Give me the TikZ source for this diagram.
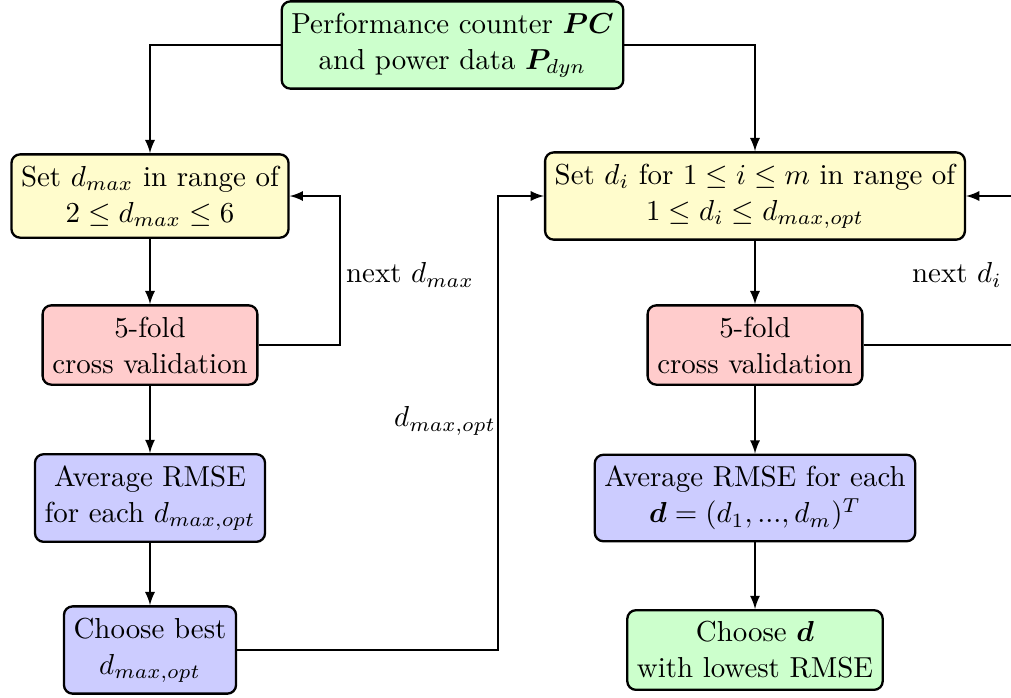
\documentclass[tikz,border=0pt]{standalone}
\usepackage{amsmath,amssymb}
\usepackage{bm}
\begin{document}
\begin{tikzpicture}[x=0.3460pt,y=-0.3460pt,
  box/.style={draw, rounded corners=3pt, thick, align=center,
    inner xsep=3.33pt, inner ysep=3.9pt, font=\linespread{1.04}\selectfont},
  greenbox/.style={box, fill=green!20},
  yellowbox/.style={box, fill=yellow!20},
  redbox/.style={box, fill=red!20},
  bluebox/.style={box, fill=blue!20},
  arr/.style={semithick, -latex},
  lbl/.style={inner sep=0pt}]
\useasboundingbox (0,0) rectangle (1011,697);

% main flow nodes
\node[greenbox] (top) at (452.5,45) {Performance counter $\bm{PC}$\\ and power data $\bm{P}_{dyn}$};

\node[yellowbox] (sdmax) at (150,196) {Set $d_{max}$ in range of\\ $2 \leq d_{max} \leq 6$};
\node[redbox] (cv1) at (150,345) {5-fold\\ cross validation};
\node[bluebox] (avg1) at (150,498) {Average RMSE\\ for each $d_{max,opt}$};
\node[bluebox] (best1) at (150,650) {Choose best\\ $d_{max,opt}$};

\node[yellowbox] (sdi) at (755,196) {Set $d_i$ for $1 \leq i \leq m$ in range of\\ $1 \leq d_i \leq d_{max,opt}$};
\node[redbox] (cv2) at (755,345) {5-fold\\ cross validation};
\node[bluebox] (avg2) at (755,498) {Average RMSE for each\\ $\bm{d} = (d_1, ..., d_m)^T$};
\node[greenbox] (choose) at (755,650) {Choose $\bm{d}$\\ with lowest RMSE};

% routing columns for the loops
\coordinate (loopL) at (340,0);
\coordinate (loopM) at (498,0);
\coordinate (loopR) at (1030,0);

% connectors
\draw[arr] (top.west) -| (sdmax.north);
\draw[arr] (top.east) -| (sdi.north);
\draw[arr] (sdmax) -- (cv1);
\draw[arr] (cv1) -- (avg1);
\draw[arr] (avg1) -- (best1);
\draw[arr] (sdi) -- (cv2);
\draw[arr] (cv2) -- (avg2);
\draw[arr] (avg2) -- (choose);

\draw[arr] (cv1.east) -- (cv1.east -| loopL) |- (sdmax.east);
\draw[arr] (best1.east) -- (best1.east -| loopM) |- (sdi.west);
\draw[arr] (cv2.east) -- (cv2.east -| loopR) |- (sdi.east);

% loop labels
\node[lbl] (l1) at (410,275) {next $d_{max}$};
\node[lbl] (l2) at (445,421) {$d_{max,opt}$};
\node[lbl] (l3) at (957,275) {next $d_i$};
\end{tikzpicture}
\end{document}
